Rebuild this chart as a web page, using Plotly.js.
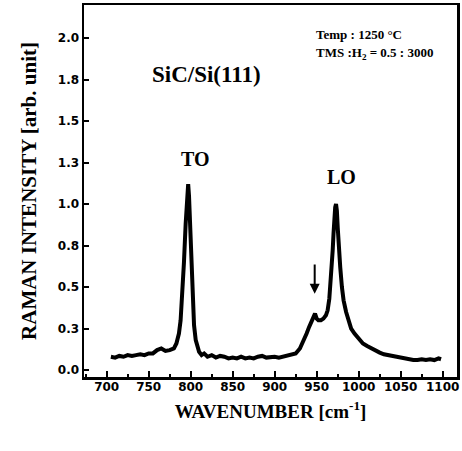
<!DOCTYPE html>
<html>
<head>
<meta charset="utf-8">
<script src="https://cdn.plot.ly/plotly-3.0.1.min.js"></script>
<style>html,body{margin:0;padding:0;background:#fff;}#chart{width:462px;height:451px;}</style>
</head>
<body>
<div id="chart"></div>
<script>
const wavenumber = [705,710,715,720,725,730,735,740,745,750,755,760,765,770,775,780,783,786,788,790,792,794,795,796,797,798,799,800,801,802,804,806,808,810,813,816,820,825,830,835,840,845,850,855,860,865,870,875,880,885,890,895,900,905,910,915,920,925,930,935,938,941,944,946,948,950,952,955,958,961,963,965,967,969,970,971,972,973,974,975,976,978,980,982,985,988,991,995,1000,1005,1010,1015,1020,1025,1030,1035,1040,1045,1050,1055,1060,1065,1070,1075,1080,1085,1090,1095,1098];
const intensity = [0.08,0.075,0.085,0.08,0.09,0.085,0.09,0.095,0.09,0.10,0.10,0.12,0.13,0.115,0.12,0.13,0.16,0.22,0.30,0.45,0.65,0.88,1.0,1.08,1.12,1.05,0.92,0.75,0.58,0.44,0.27,0.18,0.13,0.11,0.09,0.10,0.08,0.09,0.075,0.085,0.08,0.07,0.075,0.07,0.08,0.07,0.075,0.07,0.08,0.085,0.075,0.08,0.08,0.075,0.08,0.085,0.09,0.10,0.13,0.18,0.22,0.26,0.29,0.31,0.34,0.31,0.30,0.30,0.31,0.33,0.36,0.43,0.55,0.72,0.82,0.92,0.98,1.0,0.96,0.86,0.76,0.62,0.50,0.42,0.35,0.29,0.25,0.22,0.19,0.16,0.145,0.13,0.115,0.105,0.095,0.09,0.08,0.075,0.07,0.07,0.065,0.06,0.06,0.065,0.06,0.065,0.06,0.07,0.065];
const yTickVals = [0,0.25,0.5,0.75,1.0,1.25,1.5,1.75,2.0];
const yTickText = ["0.0","0.3","0.5","0.8","1.0","1.3","1.5","1.8","2.0"];
const xTickVals = [700,750,800,850,900,950,1000,1050,1100];
const xTickText = ["700","750","800","850","900","950","1000","1050","1100"];

const serif = "Liberation Serif, Times New Roman, serif";
const sans = "DejaVu Sans, Arial, sans-serif";

const data = [{
  x: wavenumber, y: intensity, type: 'scatter', mode: 'lines',
  line: {color: '#000', width: 4, shape: 'linear'}, hoverinfo: 'skip'
}];

const layout = {
  width: 462, height: 451,
  margin: {l: 84, r: 5, t: 5, b: 74},
  paper_bgcolor: '#fff', plot_bgcolor: '#fff',
  showlegend: false,
  xaxis: {
    range: [673, 1117], tickvals: xTickVals, ticktext: xTickText,
    ticks: 'inside', ticklen: 6, tickwidth: 2, tickcolor: '#000',
    minor: {dtick: 25, tick0: 700, ticks: 'inside', ticklen: 3, tickwidth: 2, tickcolor: '#000'},
    showline: true, linecolor: '#000', linewidth: 2.5, mirror: true,
    showgrid: false, zeroline: false, ticklabelstandoff: -3,
    tickfont: {family: sans, size: 12, color: '#000', weight: 'bold'},
    title: {text: 'WAVENUMBER [cm<sup>-1</sup>]', font: {family: serif, size: 19, color: '#000', weight: 'bold'}, standoff: 12}
  },
  yaxis: {
    range: [-0.042, 2.2], tickvals: yTickVals, ticktext: yTickText,
    ticks: 'inside', ticklen: 5, tickwidth: 2, tickcolor: '#000',
    showline: true, linecolor: '#000', linewidth: 2.5, mirror: true,
    showgrid: false, zeroline: false,
    tickfont: {family: sans, size: 12, color: '#000', weight: 'bold'},
    title: {text: 'RAMAN INTENSITY [arb. unit]', font: {family: serif, size: 21, color: '#000', weight: 'bold'}, standoff: 16}
  },
  annotations: [
    {text: 'SiC/Si(111)', x: 819, y: 1.78, xref: 'x', yref: 'y', showarrow: false, font: {family: serif, size: 23, color: '#000', weight: 'bold'}},
    {text: 'TO', x: 806, y: 1.27, xref: 'x', yref: 'y', showarrow: false, font: {family: serif, size: 20, color: '#000', weight: 'bold'}},
    {text: 'LO', x: 980, y: 1.163, xref: 'x', yref: 'y', showarrow: false, font: {family: serif, size: 20, color: '#000', weight: 'bold'}},
    {text: 'Temp : 1250 °C', x: 947, y: 2.025, xref: 'x', yref: 'y', xanchor: 'left', showarrow: false, font: {family: serif, size: 13, color: '#000', weight: 'bold'}},
    {text: 'TMS :H<sub>2</sub> = 0.5 : 3000', x: 947, y: 1.905, xref: 'x', yref: 'y', xanchor: 'left', showarrow: false, font: {family: serif, size: 13, color: '#000', weight: 'bold'}},
    {text: '', x: 947.6, y: 0.46, xref: 'x', yref: 'y', ax: 947.6, ay: 0.645, axref: 'x', ayref: 'y', showarrow: true, arrowhead: 2, arrowsize: 1, arrowwidth: 2, arrowcolor: '#000'}
  ]
};

Plotly.newPlot('chart', data, layout, {displayModeBar: false, staticPlot: true});
</script>
</body>
</html>
